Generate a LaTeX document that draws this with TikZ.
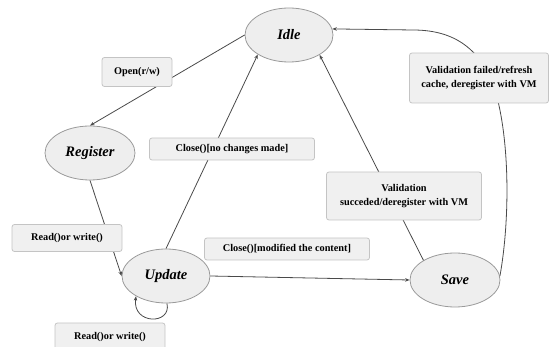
\documentclass[tikz,border=0pt]{standalone}
\usepackage{fontspec}
\setmainfont{Liberation Serif}
\usetikzlibrary{arrows.meta,shapes.geometric}
\definecolor{stfill}{HTML}{EEEEEE}
\definecolor{stline}{HTML}{9A9A9A}
\definecolor{lbfill}{HTML}{F0F0F0}
\definecolor{lbline}{HTML}{C4C4C4}
\definecolor{edge}{HTML}{4A4A4A}
\tikzset{
  state/.style={ellipse, draw=stline, fill=stfill, line width=0.8pt,
    minimum width=88pt, minimum height=54pt, inner sep=0pt,
    font=\fontsize{14.5}{16}\selectfont\bfseries\itshape},
  lbl/.style={rectangle, rounded corners=2.5pt, draw=lbline, fill=lbfill, line width=0.8pt,
    inner sep=2pt, align=center, font=\fontsize{10.3}{13.5}\selectfont\bfseries},
  conn/.style={draw=edge, line width=0.8pt, -{Stealth[length=4.5pt,width=3.5pt]}}
}
\begin{document}
\begin{tikzpicture}[x=1pt,y=-1pt]
\useasboundingbox (0,0) rectangle (549,347);
% states
\node[state] (idle) at (289,35) {Idle};
\node[state, minimum width=90pt] (register) at (90,153) {Register};
\node[state] (update) at (166,276) {Update};
\node[state, minimum width=90pt] (save) at (455,280) {Save};
% connectors
\coordinate (c1) at (413,30);
\draw[conn] (idle.west) -- (register.north);
\draw[conn] (register.south) -- (update.west);
\draw[conn] (update.north) -- (idle.212);
\draw[conn] (update.east) -- (save.west);
\draw[conn] (save.148) -- (idle.327);
\draw[conn] (save.5) .. controls (510,220) and (510,140) .. (495,90)
   .. controls (480,45) and (450,30) .. (c1) -- (idle.8);
\draw[conn] (update.272) .. controls (172,325) and (132,325) .. (update.214);
% labels
\node[lbl, minimum width=70pt, minimum height=29pt] (lopen) at (137,72) {Open(r/w)};
\node[lbl, minimum width=165pt, minimum height=22pt] (lnochg) at (232,149) {Close()[no changes made]};
\node[lbl, minimum width=139pt, minimum height=50pt] (lfail) at (479,78) {Validation failed/refresh\\cache, deregister with VM};
\node[lbl, minimum width=155pt, minimum height=48pt] (lsucc) at (404,196) {Validation\\succeded/deregister with VM};
\node[lbl, minimum width=110pt, minimum height=27pt] (lrw1) at (67,238) {Read()or write()};
\node[lbl, minimum width=165pt, minimum height=22pt] (lmod) at (287,249) {Close()[modified the content]};
\node[lbl, minimum width=110pt, minimum height=28pt] (lrw2) at (110,337) {Read()or write()};
\end{tikzpicture}
\end{document}
